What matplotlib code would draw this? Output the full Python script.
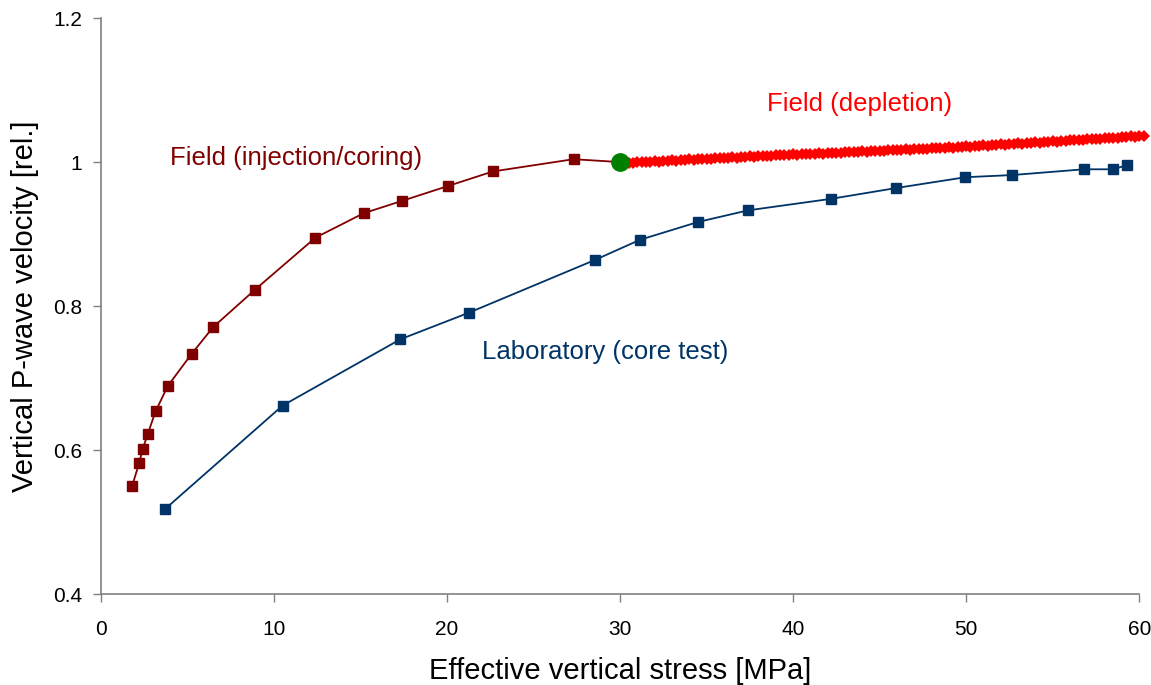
import matplotlib
matplotlib.use("Agg")
import matplotlib.pyplot as plt

plt.rcParams['font.family'] = ['Liberation Sans', 'DejaVu Sans']

# Field data during injection / coring (effective stress in MPa, relative Vp)
inj_stress = [1.81, 2.22, 2.43, 2.71, 3.17, 3.87, 5.26, 6.50, 8.92, 12.40,
              15.19, 17.39, 20.09, 22.66, 27.32]
inj_vel = [0.550, 0.582, 0.602, 0.622, 0.654, 0.689, 0.734, 0.771, 0.823, 0.895,
           0.929, 0.946, 0.967, 0.987, 1.004]

# Reference (in-situ) state
ref_stress = [30.0]
ref_vel = [1.0]

# Laboratory core test
lab_stress = [3.70, 10.51, 17.31, 21.28, 28.54, 31.14, 34.53, 37.40, 42.20,
              45.96, 49.96, 52.65, 56.80, 58.50, 59.31]
lab_vel = [0.518, 0.662, 0.754, 0.791, 0.864, 0.892, 0.917, 0.933, 0.949,
           0.964, 0.979, 0.982, 0.990, 0.990, 0.996]

# Field data during depletion
dep_stress = [
    30.50, 30.75, 31.00, 31.25, 31.50, 31.75, 32.00, 32.25, 32.50, 32.75,
    33.00, 33.25, 33.50, 33.75, 34.00, 34.25, 34.50, 34.75, 35.00, 35.25,
    35.50, 35.75, 36.00, 36.25, 36.50, 36.75, 37.00, 37.25, 37.50, 37.75,
    38.00, 38.25, 38.50, 38.75, 39.00, 39.25, 39.50, 39.75, 40.00, 40.25,
    40.50, 40.75, 41.00, 41.25, 41.50, 41.75, 42.00, 42.25, 42.50, 42.75,
    43.00, 43.25, 43.50, 43.75, 44.00, 44.25, 44.50, 44.75, 45.00, 45.25,
    45.50, 45.75, 46.00, 46.25, 46.50, 46.75, 47.00, 47.25, 47.50, 47.75,
    48.00, 48.25, 48.50, 48.75, 49.00, 49.25, 49.50, 49.75, 50.00, 50.25,
    50.50, 50.75, 51.00, 51.25, 51.50, 51.75, 52.00, 52.25, 52.50, 52.75,
    53.00, 53.25, 53.50, 53.75, 54.00, 54.25, 54.50, 54.75, 55.00, 55.25,
    55.50, 55.75, 56.00, 56.25, 56.50, 56.75, 57.00, 57.25, 57.50, 57.75,
    58.00, 58.25, 58.50, 58.75, 59.00, 59.25, 59.50, 59.75, 60.00, 60.25]
dep_vel = [
    0.9992, 0.9989, 0.9999, 0.9996, 1.0005, 1.0001, 1.0010, 1.0008, 1.0017, 1.0014,
    1.0024, 1.0021, 1.0030, 1.0026, 1.0036, 1.0033, 1.0042, 1.0039, 1.0048, 1.0044,
    1.0054, 1.0051, 1.0060, 1.0056, 1.0066, 1.0063, 1.0072, 1.0068, 1.0078, 1.0075,
    1.0084, 1.0080, 1.0090, 1.0087, 1.0096, 1.0092, 1.0102, 1.0099, 1.0108, 1.0104,
    1.0113, 1.0109, 1.0118, 1.0114, 1.0123, 1.0119, 1.0128, 1.0124, 1.0133, 1.0129,
    1.0138, 1.0134, 1.0143, 1.0139, 1.0148, 1.0144, 1.0153, 1.0149, 1.0158, 1.0154,
    1.0164, 1.0161, 1.0170, 1.0166, 1.0176, 1.0173, 1.0182, 1.0178, 1.0188, 1.0185,
    1.0194, 1.0190, 1.0200, 1.0197, 1.0206, 1.0202, 1.0212, 1.0209, 1.0218, 1.0215,
    1.0225, 1.0222, 1.0232, 1.0229, 1.0239, 1.0236, 1.0246, 1.0243, 1.0253, 1.0250,
    1.0260, 1.0257, 1.0267, 1.0264, 1.0274, 1.0271, 1.0281, 1.0278, 1.0288, 1.0285,
    1.0296, 1.0293, 1.0303, 1.0300, 1.0311, 1.0308, 1.0318, 1.0315, 1.0326, 1.0323,
    1.0333, 1.0330, 1.0341, 1.0338, 1.0348, 1.0345, 1.0356, 1.0353, 1.0363, 1.0366]

x_ticks = [0, 10, 20, 30, 40, 50, 60]
y_ticks = [0.4, 0.6, 0.8, 1.0, 1.2]
y_tick_labels = ['0.4', '0.6', '0.8', '1', '1.2']

C_INJ = '#800000'
C_LAB = '#003366'
C_DEP = '#ff0000'
C_REF = '#008000'

fig = plt.figure(figsize=(11.51, 6.85), dpi=100)
ax = fig.add_axes([0.0875, 0.1324, 0.9023, 0.8413])

# injection / coring path, ending at the in-situ reference point
ax.plot(inj_stress + ref_stress, inj_vel + ref_vel, '-', color=C_INJ, lw=1.3, zorder=3)
ax.plot(inj_stress, inj_vel, 's', color=C_INJ, ms=6.5, zorder=4)

# laboratory curve
ax.plot(lab_stress, lab_vel, '-', color=C_LAB, lw=1.3, marker='s', ms=6.5, zorder=3)

# depletion path
ax.plot(ref_stress + dep_stress, ref_vel + dep_vel, '-', color=C_DEP, lw=1.3,
        zorder=3, clip_on=False)
ax.plot(dep_stress, dep_vel, 'D', color=C_DEP, ms=6.5, mew=0, zorder=4, clip_on=False)

# reference point
ax.plot(ref_stress, ref_vel, 'o', color=C_REF, ms=12.5, zorder=5)

ax.text(4.03, 1.0055, 'Field (injection/coring)', color=C_INJ, fontsize=18.5,
        ha='left', va='center')
ax.text(38.5, 1.080, 'Field (depletion)', color=C_DEP, fontsize=18.5,
        ha='left', va='center')
ax.text(22.0, 0.737, 'Laboratory (core test)', color=C_LAB, fontsize=18.5,
        ha='left', va='center')

ax.set_xlim(0, 60)
ax.set_ylim(0.4, 1.2)
ax.set_xticks(x_ticks)
ax.set_yticks(y_ticks)
ax.set_yticklabels(y_tick_labels)

for side in ('top', 'right'):
    ax.spines[side].set_visible(False)
for side in ('left', 'bottom'):
    ax.spines[side].set_color('#808080')
    ax.spines[side].set_linewidth(1.2)

ax.tick_params(axis='both', direction='out', length=5.5, width=1.0, color='#808080',
               labelsize=15, labelcolor='black')
ax.tick_params(axis='x', pad=13)
ax.tick_params(axis='y', pad=8)

ax.set_xlabel('Effective vertical stress [MPa]', fontsize=21, labelpad=13)
ax.set_ylabel('Vertical P-wave velocity [rel.]', fontsize=21, labelpad=10)

fig.savefig('out.png', dpi=100)
